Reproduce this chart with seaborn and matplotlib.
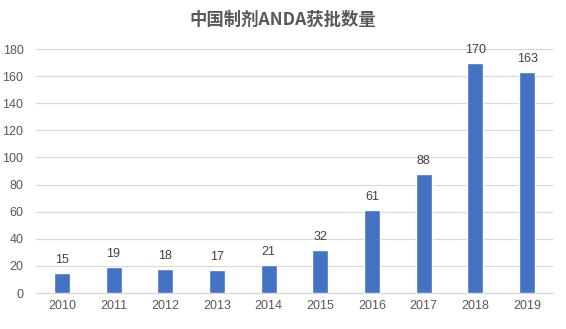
import matplotlib
matplotlib.use("Agg")
import matplotlib.pyplot as plt
import seaborn as sns
import pandas as pd

years = ["2010", "2011", "2012", "2013", "2014", "2015", "2016", "2017", "2018", "2019"]
approvals = [15, 19, 18, 17, 21, 32, 61, 88, 170, 163]
y_ticks = [0, 20, 40, 60, 80, 100, 120, 140, 160, 180]

sns.set_theme(style="white")
plt.rcParams["font.family"] = ["Liberation Sans", "Noto Sans CJK SC", "DejaVu Sans"]

df = pd.DataFrame({"year": years, "count": approvals})

fig = plt.figure(figsize=(5.66, 3.29), dpi=100)
ax = fig.add_axes([36 / 566, 1 - 293 / 329, 517 / 566, 244 / 329])

sns.barplot(data=df, x="year", y="count", color="#4472C4", saturation=1,
            width=0.31, ax=ax, zorder=3)

ax.set_ylim(0, 180)
ax.set_yticks(y_ticks)
ax.set_xlim(-0.5, len(years) - 0.5)
ax.yaxis.grid(True, color="#d9d9d9", linewidth=0.9, zorder=0)
ax.set_axisbelow(True)
for side in ["top", "right", "left"]:
    ax.spines[side].set_visible(False)
ax.spines["bottom"].set_color("#d9d9d9")
ax.spines["bottom"].set_linewidth(0.9)
ax.set_xlabel("")
ax.set_ylabel("")
ax.tick_params(axis="both", length=0, labelsize=9, labelcolor="#595959", pad=5)
ax.tick_params(axis="y", pad=9)

for i, v in enumerate(approvals):
    ax.annotate(str(v), (i, v), xytext=(0, 5), textcoords="offset points",
                ha="center", va="bottom", fontsize=9, color="#404040")

fig.text(0.5, 1 - 20 / 329, "中国制剂ANDA获批数量", ha="center", va="center",
         fontsize=12.5, fontweight="bold", color="#595959",
         family=["Noto Sans CJK SC", "DejaVu Sans"])

fig.savefig("out.png", dpi=100, facecolor="white")
